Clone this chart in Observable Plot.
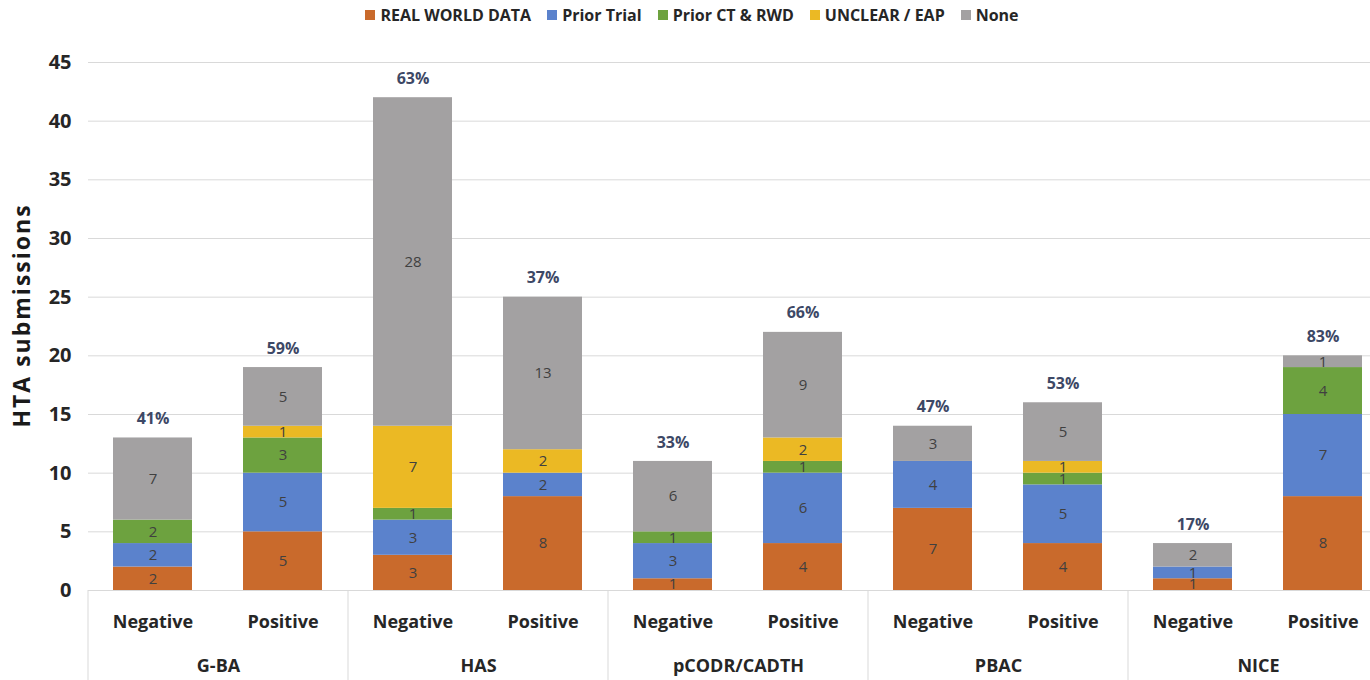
<!DOCTYPE html>
<html>
<head>
<meta charset="utf-8">
<script src="https://cdn.jsdelivr.net/npm/d3@7"></script>
<script src="https://cdn.jsdelivr.net/npm/@observablehq/plot@0.6"></script>
<style>
  body { margin: 0; background: #fff; overflow: hidden; width: 1370px; height: 680px; }
  #legend { display: flex; justify-content: center; align-items: center; height: 35px; width: 1370px;
    padding-left: 14px; padding-bottom: 6px; box-sizing: border-box;
    font-family: 'Open Sans', sans-serif; font-weight: bold; font-size: 16px; color: #262626; }
  .item { display: flex; align-items: center; margin: 0 8px; }
  .sw { width: 10px; height: 10px; margin-right: 5px; display: inline-block; }
  #chart { width: 1370px; overflow: hidden; }
  #chart svg { max-width: none !important; display: block; }
</style>
</head>
<body>
<div id="legend"></div>
<div id="chart"></div>
<script>
const agencies = ["G-BA", "HAS", "pCODR/CADTH", "PBAC", "NICE"];
const outcomes = ["Negative", "Positive"];
const seriesNames = ["REAL WORLD DATA", "Prior Trial", "Prior CT & RWD", "UNCLEAR / EAP", "None"];
const seriesColors = ["#c96a2c", "#5b82cc", "#6da23f", "#ebb924", "#a3a1a2"];
// bars in order: G-BA Neg, G-BA Pos, HAS Neg, HAS Pos, pCODR Neg, pCODR Pos, PBAC Neg, PBAC Pos, NICE Neg, NICE Pos
const realWorldData = [2, 5, 3, 8, 1, 4, 7, 4, 1, 8];
const priorTrial    = [2, 5, 3, 2, 3, 6, 4, 5, 1, 7];
const priorCtRwd    = [2, 3, 1, 0, 1, 1, 0, 1, 0, 4];
const unclearEap    = [0, 1, 7, 2, 0, 2, 0, 1, 0, 0];
const none          = [7, 5, 28, 13, 6, 9, 3, 5, 2, 1];
const percentLabels = ["41%", "59%", "63%", "37%", "33%", "66%", "47%", "53%", "17%", "83%"];
const yTicks = [0, 5, 10, 15, 20, 25, 30, 35, 40, 45];

const FONT = "'Open Sans', sans-serif";

const seriesValues = [realWorldData, priorTrial, priorCtRwd, unclearEap, none];
const bars = agencies.flatMap(a => outcomes.map(o => ({agency: a, outcome: o})));
const data = [];
seriesNames.forEach((s, si) => {
  bars.forEach((b, bi) => data.push({agency: b.agency, outcome: b.outcome, series: s, value: seriesValues[si][bi]}));
});
const totals = bars.map((b, bi) => ({
  agency: b.agency, outcome: b.outcome,
  total: d3.sum(seriesValues, v => v[bi]),
  label: percentLabels[bi]
}));

// legend
const legend = d3.select("#legend");
seriesNames.forEach((s, i) => {
  const it = legend.append("div").attr("class", "item");
  it.append("span").attr("class", "sw").style("background", seriesColors[i]);
  it.append("span").text(s);
});

const plot = Plot.plot({
  width: 1390,
  height: 645,
  marginLeft: 88,
  marginRight: 2,
  marginTop: 27,
  marginBottom: 90,
  style: {fontFamily: FONT, background: "white", color: "#262626"},
  fx: {domain: agencies, padding: 0, label: null},
  x: {domain: outcomes, paddingInner: 0.39, paddingOuter: 0.195, label: null},
  y: {domain: [0, 45], label: null},
  color: {domain: seriesNames, range: seriesColors},
  marks: [
    Plot.ruleY(yTicks, {stroke: "#d9d9d9"}),
    Plot.axisY(yTicks, {tickSize: 0, tickPadding: 17, fontSize: 20, fontWeight: "bold", label: null}),
    Plot.axisX({tickSize: 0, tickPadding: 25, fontSize: 18, fontWeight: "bold", label: null}),
    Plot.axisFx({anchor: "bottom", tickSize: 0, tickPadding: 69, fontSize: 18, fontWeight: "bold", label: null}),
    Plot.text(["HTA submissions"], {fx: [agencies[0]], frameAnchor: "left", textAnchor: "middle", rotate: -90,
      dx: -66, dy: -11, fontSize: 23, fontWeight: "bold", fill: "#1a1a1a", className: "ylab"}),
    Plot.barY(data, Plot.stackY({fx: "agency", x: "outcome", y: "value", fill: "series", z: "series", order: seriesNames})),
    Plot.text(data, Plot.stackY({fx: "agency", x: "outcome", y: "value", z: "series", order: seriesNames,
      text: d => d.value > 0 ? String(d.value) : null, fontSize: 15, fill: "#404040"})),
    Plot.text(totals, {fx: "agency", x: "outcome", y: "total", text: "label", dy: -19,
      fontSize: 16, fontWeight: "bold", fill: "#3d4866"})
  ]
});

document.getElementById("chart").appendChild(plot);
d3.select(plot).selectAll(".ylab text").style("letter-spacing", "2px");

// group separator lines below the baseline, positioned from the fx scale
const fxs = plot.scale("fx");
const ys = plot.scale("y");
const bounds = [...agencies.map(a => fxs.apply(a)), fxs.apply(agencies[agencies.length - 1]) + fxs.bandwidth];
d3.select(plot).append("g").selectAll("line").data(bounds).join("line")
  .attr("x1", d => d).attr("x2", d => d)
  .attr("y1", ys.apply(0)).attr("y2", 645)
  .attr("stroke", "#d9d9d9");
</script>
</body>
</html>
